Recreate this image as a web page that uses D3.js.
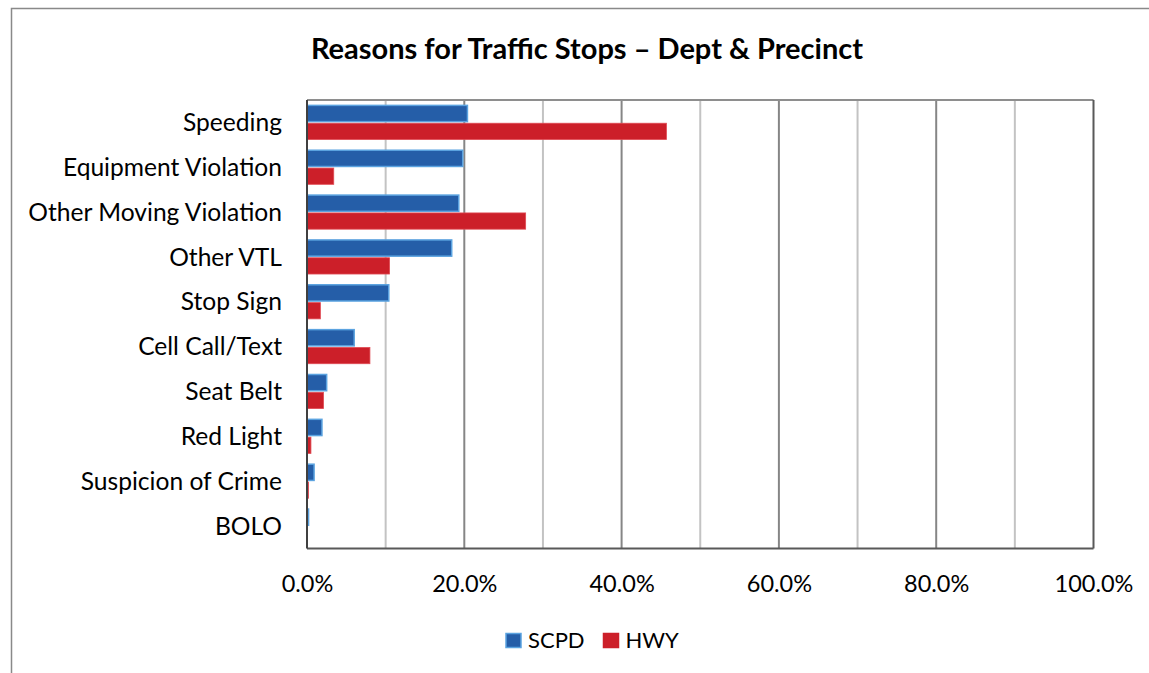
<!DOCTYPE html>
<html><head><meta charset="utf-8">
<script src="https://cdn.jsdelivr.net/npm/d3@7"></script>
<style>body{margin:0;background:#fff}svg{display:block}</style>
</head><body>
<svg id="c" width="1149" height="673"></svg>
<script>
const categories = ["Speeding","Equipment Violation","Other Moving Violation","Other VTL","Stop Sign","Cell Call/Text","Seat Belt","Red Light","Suspicion of Crime","BOLO"];
const scpd = [20.4, 19.8, 19.3, 18.4, 10.4, 6.0, 2.5, 1.9, 0.9, 0.2];
const hwy  = [45.7, 3.4, 27.8, 10.5, 1.7, 8.0, 2.1, 0.5, 0.2, 0.05];
const seriesNames = ["SCPD","HWY"];
const xTicks = [0,20,40,60,80,100];

const svg = d3.select("#c");
const FONT = "Lato, 'Open Sans', sans-serif";
const L = 307, R = 1093.5, T = 100, B = 548.5;

svg.append("rect").attr("x",11.5).attr("y",8.5).attr("width",1200).attr("height",700)
  .attr("fill","#fff").attr("stroke","#898989").attr("stroke-width",1.5);

const x = d3.scaleLinear().domain([0,100]).range([L,R]);
const y = d3.scaleBand().domain(categories).range([T,B]).paddingInner(0.24).paddingOuter(0.12);
const yi = d3.scaleBand().domain(seriesNames).range([0,y.bandwidth()]).paddingInner(0.09);

// gridlines
d3.range(10,100,10).forEach(v=>{
  svg.append("line").attr("x1",x(v)).attr("x2",x(v)).attr("y1",T).attr("y2",B)
    .attr("stroke", v%20===0 ? "#868686" : "#c3c3c3").attr("stroke-width",2);
});
// plot border
svg.append("line").attr("x1",L).attr("x2",R).attr("y1",T).attr("y2",T).attr("stroke","#8e8e8e").attr("stroke-width",2);
svg.append("line").attr("x1",R).attr("x2",R).attr("y1",T).attr("y2",B).attr("stroke","#595959").attr("stroke-width",2);
svg.append("line").attr("x1",L).attr("x2",R).attr("y1",B).attr("y2",B).attr("stroke","#595959").attr("stroke-width",2);

const data = categories.map((c,i)=>({c, v:[scpd[i],hwy[i]]}));
const g = svg.append("g");
data.forEach(d=>{
  g.append("rect").attr("x",x(0)).attr("y",y(d.c)+yi("SCPD"))
    .attr("width",Math.max(0,x(d.v[0])-x(0))).attr("height",yi.bandwidth())
    .attr("fill","#255ea8").attr("stroke","#5ba3e0").attr("stroke-width",1.5);
  g.append("rect").attr("x",x(0)).attr("y",y(d.c)+yi("HWY"))
    .attr("width",Math.max(0,x(d.v[1])-x(0))).attr("height",yi.bandwidth())
    .attr("fill","#cc1f29").attr("stroke","#e04a53").attr("stroke-width",0.8);
});
// left axis line
svg.append("line").attr("x1",L).attr("x2",L).attr("y1",T).attr("y2",B).attr("stroke","#404040").attr("stroke-width",2);

// category labels
const yAxis = d3.axisLeft(y).tickSize(0).tickPadding(25);
const ya = svg.append("g").attr("transform",`translate(${L},0)`).call(yAxis);
ya.select(".domain").remove();
ya.selectAll("text").attr("font-family",FONT).attr("font-size",24.6).attr("fill","#000")
  .attr("dy","0.35em");

// x tick labels
const xAxis = d3.axisBottom(x).tickValues(xTicks).tickSize(0).tickPadding(0).tickFormat(v=>v.toFixed(1)+"%");
const xa = svg.append("g").attr("transform",`translate(0,${B})`).call(xAxis);
xa.select(".domain").remove();
xa.selectAll("text").attr("font-family",FONT).attr("font-size",23.5).attr("fill","#000")
  .attr("y",43).attr("dy",0);

// title
svg.append("text").attr("x",587).attr("y",59).attr("text-anchor","middle")
  .attr("font-family",FONT).attr("font-weight","bold").attr("font-size",29).attr("fill","#000")
  .text("Reasons for Traffic Stops – Dept & Precinct");

// legend
const leg = [{n:"SCPD",x:506,fill:"#255ea8",stroke:"#5ba3e0"},{n:"HWY",x:603.5,fill:"#cc1f29",stroke:"#cc1f29"}];
leg.forEach(l=>{
  svg.append("rect").attr("x",l.x).attr("y",633.5).attr("width",15).attr("height",14)
    .attr("fill",l.fill).attr("stroke",l.stroke).attr("stroke-width",1.5);
  svg.append("text").attr("x",l.x+22).attr("y",648).attr("font-family",FONT).attr("font-size",22)
    .attr("fill","#000").text(l.n);
});
</script>
</body></html>
